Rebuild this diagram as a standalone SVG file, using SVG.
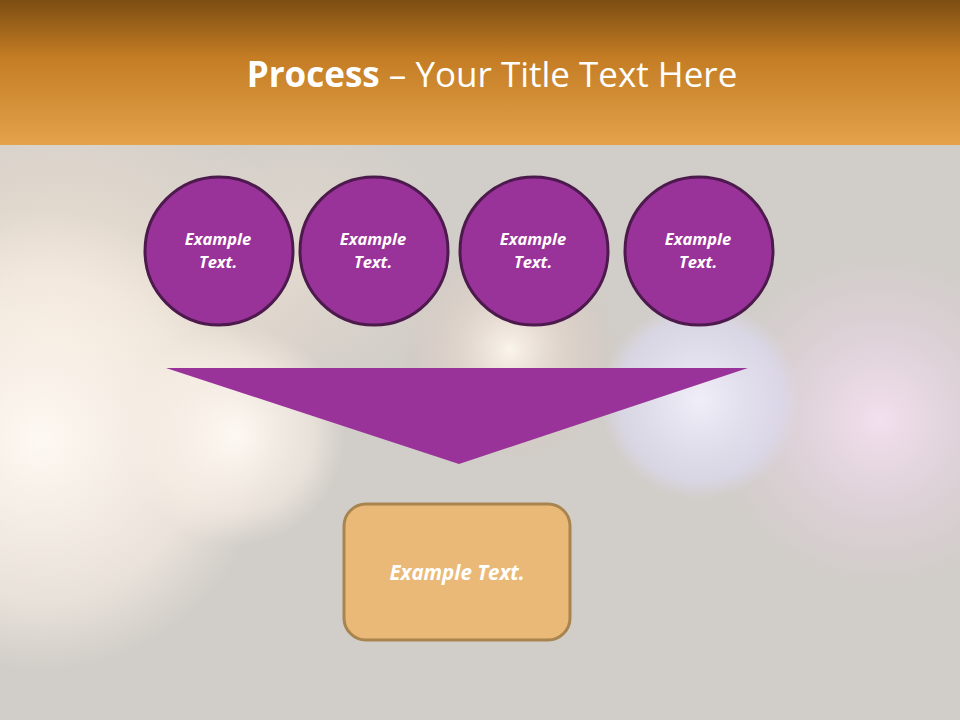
<svg xmlns="http://www.w3.org/2000/svg" width="960" height="720" viewBox="0 0 960 720">
<defs>
<linearGradient id="hdr" x1="0" y1="0" x2="0" y2="1">
<stop offset="0" stop-color="#7c4d12"/>
<stop offset="0.4" stop-color="#c47d24"/>
<stop offset="1" stop-color="#e4a24a"/>
</linearGradient>
<radialGradient id="bk1"><stop offset="0" stop-color="#fffaf4" stop-opacity="0.95"/><stop offset="0.7" stop-color="#f8efe6" stop-opacity="0.6"/><stop offset="1" stop-color="#f8efe6" stop-opacity="0"/></radialGradient>
<radialGradient id="bk2"><stop offset="0" stop-color="#f6e2f2" stop-opacity="0.9"/><stop offset="1" stop-color="#e6d0e6" stop-opacity="0"/></radialGradient>
<radialGradient id="bk3"><stop offset="0" stop-color="#f2f0fb" stop-opacity="0.95"/><stop offset="0.8" stop-color="#dcdaf0" stop-opacity="0.7"/><stop offset="1" stop-color="#dcdaf0" stop-opacity="0"/></radialGradient>
<radialGradient id="bk4"><stop offset="0" stop-color="#fffaf0" stop-opacity="0.9"/><stop offset="0.5" stop-color="#f2ddd0" stop-opacity="0.4"/><stop offset="1" stop-color="#e0c0b0" stop-opacity="0"/></radialGradient>
<radialGradient id="bk5"><stop offset="0" stop-color="#f8e8d6" stop-opacity="0.8"/><stop offset="1" stop-color="#f8e8d6" stop-opacity="0"/></radialGradient>
<style>
.c{fill:#993399;stroke:#4d1a4d;stroke-width:3}
.t{font-family:"Open Sans","DejaVu Sans",sans-serif;font-style:italic;font-weight:bold;fill:#ffffff;text-anchor:middle}
</style>
</defs>
<rect x="0" y="0" width="960" height="720" fill="#d1cdc8"/>
<g id="background">
<circle cx="60" cy="330" r="260" fill="url(#bk5)"/>
<circle cx="40" cy="440" r="230" fill="url(#bk1)"/>
<circle cx="235" cy="435" r="110" fill="url(#bk1)"/>
<circle cx="880" cy="420" r="170" fill="url(#bk2)"/>
<circle cx="700" cy="400" r="100" fill="url(#bk3)"/>
<circle cx="510" cy="350" r="110" fill="url(#bk4)"/>
<circle cx="300" cy="260" r="150" fill="url(#bk5)" opacity="0.5"/>
</g>
<g id="header">
<rect x="0" y="0" width="960" height="145" fill="url(#hdr)"/>
<text x="492" y="87" font-family="Open Sans, DejaVu Sans, sans-serif" font-size="35" fill="#ffffff" text-anchor="middle"><tspan font-weight="bold">Process</tspan> – Your Title Text Here</text>
</g>
<g id="circle1"><circle class="c" cx="219" cy="251" r="74"/><text class="t" font-size="16.5" x="218" y="245">Example</text><text class="t" font-size="16.5" x="218" y="268">Text.</text></g>
<g id="circle2"><circle class="c" cx="374" cy="251" r="74"/><text class="t" font-size="16.5" x="373" y="245">Example</text><text class="t" font-size="16.5" x="373" y="268">Text.</text></g>
<g id="circle3"><circle class="c" cx="534" cy="251" r="74"/><text class="t" font-size="16.5" x="533" y="245">Example</text><text class="t" font-size="16.5" x="533" y="268">Text.</text></g>
<g id="circle4"><circle class="c" cx="699" cy="251" r="74"/><text class="t" font-size="16.5" x="698" y="245">Example</text><text class="t" font-size="16.5" x="698" y="268">Text.</text></g>
<g id="connectors">
<polygon points="166,368 748,368 459,464" fill="#993399"/>
</g>
<g id="box">
<rect x="344" y="504" width="226" height="136" rx="22" fill="#eab978" stroke="#a8844e" stroke-width="3"/>
<text class="t" font-size="20.5" x="457" y="580">Example Text.</text>
</g>
</svg>
